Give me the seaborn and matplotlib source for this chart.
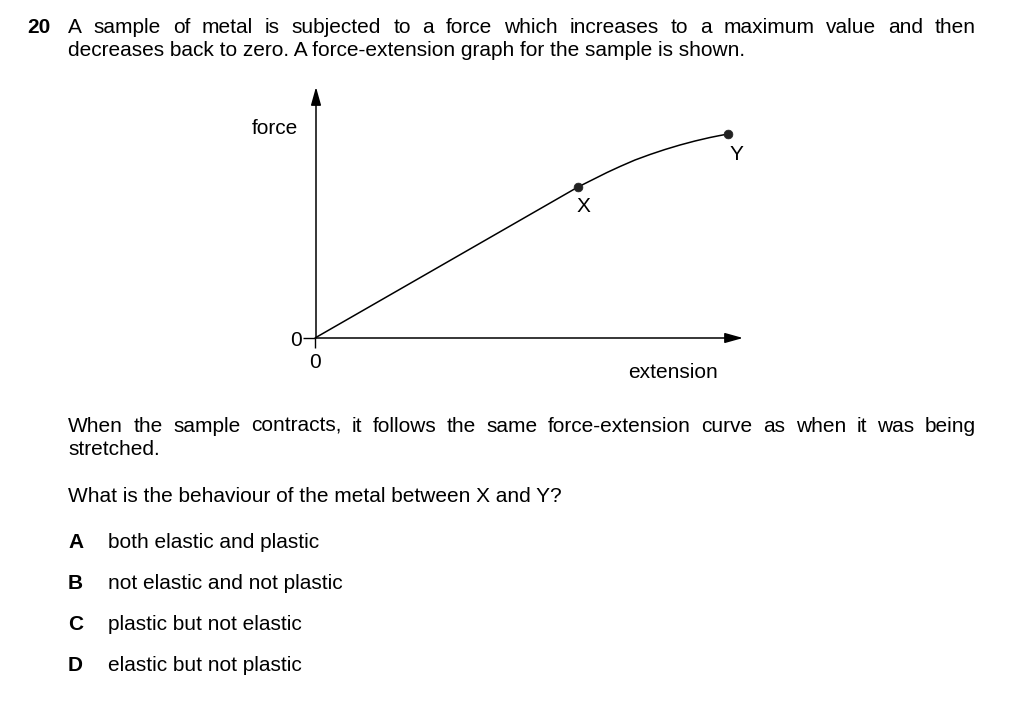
import matplotlib
matplotlib.use("Agg")
import matplotlib.pyplot as plt
import seaborn as sns
import pandas as pd

# curve (units: pixels from the origin)
extension = [0, 263, 272, 282, 292, 305, 320, 335, 350, 365, 380, 395, 405, 413]
force = [0, 151, 155.5, 160.5, 165.5, 171.5, 178, 183.5, 188.5, 193, 197, 200.5, 202.5, 204]
point_labels = ["X", "Y"]
point_ext = [263, 413]
point_force = [151, 204]

question_no = "20"
intro_line1 = "A sample of metal is subjected to a force which increases to a maximum value and then"
intro_line2 = "decreases back to zero. A force-extension graph for the sample is shown."
para_line1 = "When the sample contracts, it follows the same force-extension curve as when it was being"
para_line2 = "stretched."
question = "What is the behaviour of the metal between X and Y?"
option_keys = ["A", "B", "C", "D"]
option_texts = ["both elastic and plastic", "not elastic and not plastic",
                "plastic but not elastic", "elastic but not plastic"]

sns.set_theme(style="white")
plt.rcParams['font.family'] = ['Liberation Sans', 'DejaVu Sans']

W, H = 1024, 703
FS = 15
fig = plt.figure(figsize=(W / 100, H / 100), dpi=100)


def fx(x):
    return x / W


def fy(y):
    return 1 - y / H


def put(x, y, s, **kw):
    return fig.text(fx(x), fy(y), s, fontsize=kw.pop("fontsize", FS),
                    va=kw.pop("va", "baseline"), color="black", **kw)


def justify(x0, x1, y, line):
    # place words one by one so the line fills x0..x1
    words = line.split()
    r = fig.canvas.get_renderer()
    texts = [put(x0, y, w) for w in words]
    widths = [t.get_window_extent(r).width for t in texts]
    gap = (x1 - x0 - sum(widths)) / (len(words) - 1)
    x = x0
    for t, w in zip(texts, widths):
        t.set_x(fx(x))
        x += w + gap


# --- text ---
put(27, 33, question_no, fontweight="bold")
justify(68, 976, 33, intro_line1)
put(68, 56, intro_line2)
justify(68, 976, 432, para_line1)
put(68, 455, para_line2)
put(68, 502, question)
for i, (k, t) in enumerate(zip(option_keys, option_texts)):
    yb = 548 + i * 41
    put(68, yb, k, fontweight="bold")
    put(108, yb, t)

# --- graph: axes in pixel units, origin at (315, 338) ---
ox, oy = 315, 338
ax = fig.add_axes([fx(ox), fy(oy), 440 / W, 260 / H])
ax.set_xlim(0, 440)
ax.set_ylim(0, 260)
ax.patch.set_alpha(0)
for s in ax.spines.values():
    s.set_visible(False)

df = pd.DataFrame({"extension": extension, "force": force})
sns.lineplot(data=df, x="extension", y="force", ax=ax, color="black",
             linewidth=1.1, sort=False)
pts = pd.DataFrame({"extension": point_ext, "force": point_force, "label": point_labels})
sns.scatterplot(data=pts, x="extension", y="force", ax=ax, color="#222222",
                s=40, edgecolor="#222222", zorder=5)

# axis arrows
arrow = dict(arrowstyle="-|>,head_length=1.0,head_width=0.28", color="black",
             lw=1.1, shrinkA=0, shrinkB=0, mutation_scale=11)
ax.annotate("", xy=(428, 0), xytext=(0, 0), arrowprops=arrow, annotation_clip=False)
ax.annotate("", xy=(1, 251), xytext=(1, 0), arrowprops=arrow, annotation_clip=False)

ax.set_xticks([0])
ax.set_yticks([0])
ax.set_xticklabels(["0"])
ax.set_yticklabels(["0"])
ax.tick_params(axis="x", bottom=True, direction="out", length=7.5, width=1.0,
               pad=3, labelsize=FS, colors="black")
ax.tick_params(axis="y", left=True, direction="out", length=8.5, width=1.0,
               pad=1, labelsize=FS, colors="black")
ax.set_xlabel("")
ax.set_ylabel("")

# labels
put(252, 134, "force", ha="left")
put(628, 378, "extension", ha="left")
for lab, ex, fo, dx, dy in zip(point_labels, point_ext, point_force, [5, 8], [-19, -21]):
    ax.text(ex + dx, fo + dy, lab, fontsize=FS, ha="center", va="center", color="black")

fig.savefig("out.png", dpi=100, facecolor="white")
